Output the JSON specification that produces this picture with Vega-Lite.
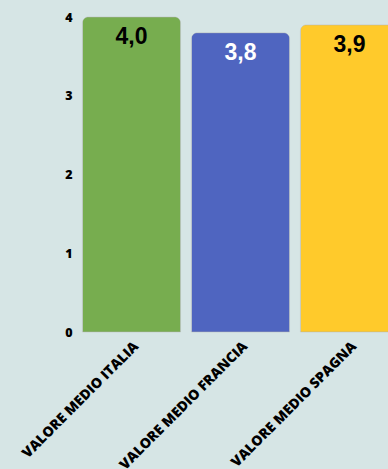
{
  "$schema": "https://vega.github.io/schema/vega-lite/v6.json",
  "autosize": "none",
  "padding": {"left": 77, "top": 17, "right": 0, "bottom": 137},
  "width": 327,
  "height": 315,
  "background": "#d6e5e5",
  "config": {"view": {"stroke": null},
    "locale": {"number": {"decimal": ",", "thousands": ".", "grouping": [3], "currency": ["€", ""]}}},
  "data": {"values": [
    {"paese": "VALORE MEDIO ITALIA", "valore": 4.0},
    {"paese": "VALORE MEDIO FRANCIA", "valore": 3.8},
    {"paese": "VALORE MEDIO SPAGNA", "valore": 3.9}
  ]},
  "encoding": {
    "x": {"field": "paese", "type": "nominal", "sort": null,
      "scale": {"paddingInner": 0.1, "paddingOuter": 0.05},
      "axis": {"title": null, "labelAngle": -45, "domain": false, "ticks": false,
        "labelFont": "Open Sans", "labelFontWeight": 800, "labelFontSize": 14,
        "labelColor": "#000000", "labelPadding": 7, "labelLimit": 300}},
    "y": {"field": "valore", "type": "quantitative",
      "scale": {"domain": [0, 4], "nice": false},
      "axis": {"title": null, "values": [0, 1, 2, 3, 4], "grid": false, "domain": false, "ticks": false,
        "labelFont": "Open Sans", "labelFontWeight": 800, "labelFontSize": 12.5,
        "labelColor": "#000000", "labelPadding": 5, "format": "d"}}
  },
  "layer": [
    {"mark": {"type": "bar", "cornerRadiusTopLeft": 6, "cornerRadiusTopRight": 6,
       "stroke": "#b0b0b0", "strokeWidth": 1, "strokeOpacity": 0.35},
     "encoding": {"color": {"field": "paese", "type": "nominal", "legend": null,
       "scale": {"domain": ["VALORE MEDIO ITALIA", "VALORE MEDIO FRANCIA", "VALORE MEDIO SPAGNA"],
                 "range": ["#77ad4f", "#4f65c0", "#ffca2b"]}}}},
    {"mark": {"type": "text", "baseline": "top", "dy": 9, "font": "Liberation Sans", "fontWeight": "bold", "fontSize": 23},
     "encoding": {
       "text": {"field": "valore", "type": "quantitative", "format": ".1f", "formatType": "number"},
       "color": {"field": "paese", "type": "nominal", "legend": null,
         "scale": {"domain": ["VALORE MEDIO ITALIA", "VALORE MEDIO FRANCIA", "VALORE MEDIO SPAGNA"],
                   "range": ["#000000", "#ffffff", "#000000"]}}}}
  ],
  "resolve": {"scale": {"color": "independent"}}
}
